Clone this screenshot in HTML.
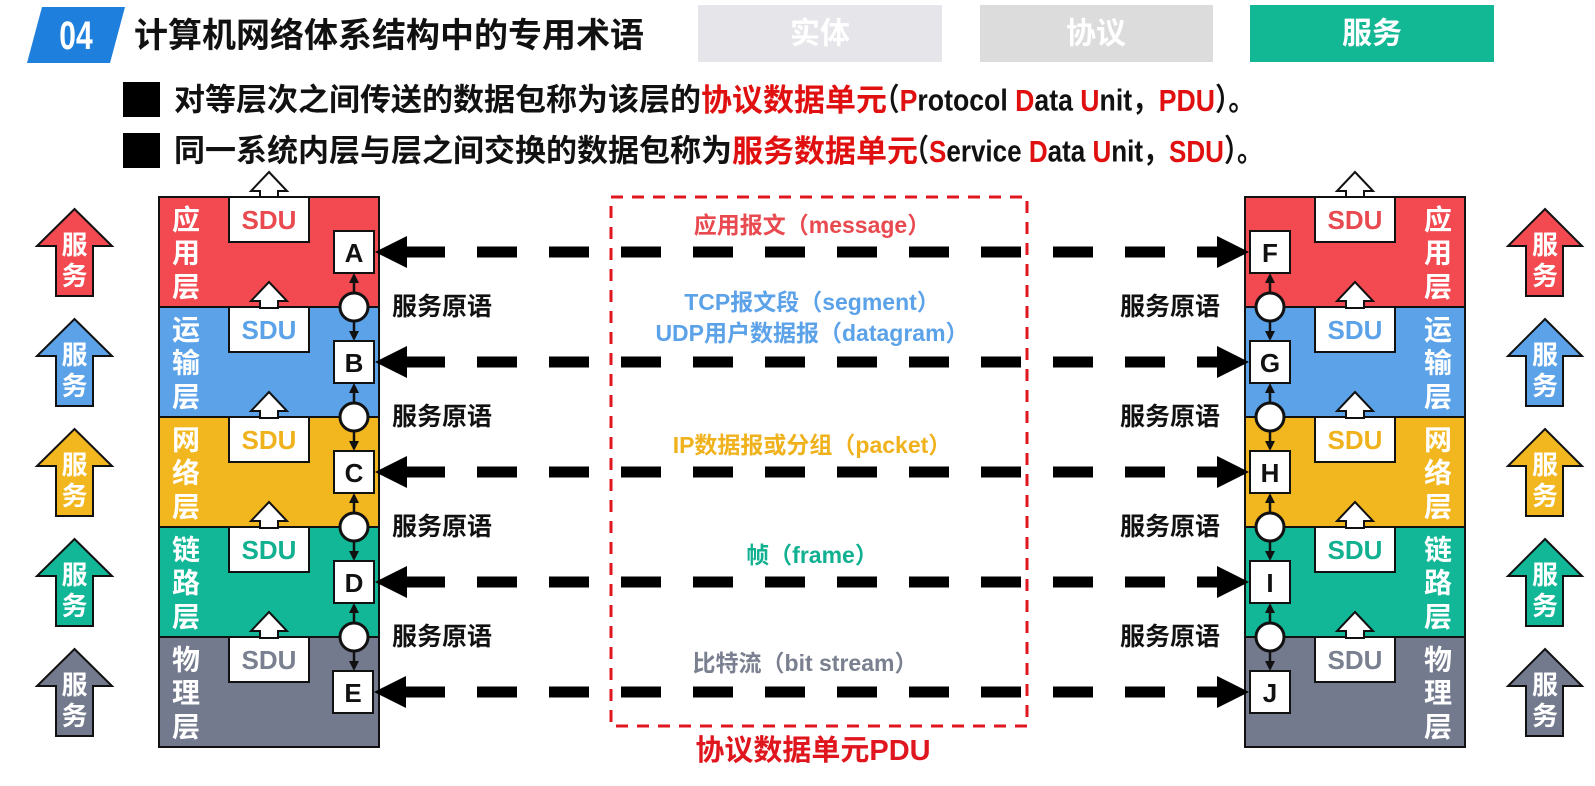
<!DOCTYPE html>
<html><head><meta charset="utf-8"><style>
html,body{margin:0;padding:0;background:#fff;}
body{width:1595px;height:781px;overflow:hidden;position:relative;font-family:"Liberation Sans","Noto Sans CJK SC",sans-serif;}
svg text{font-family:"Liberation Sans","Noto Sans CJK SC",sans-serif;font-weight:bold;}
</style></head><body>
<svg width="1595" height="781" viewBox="0 0 1595 781" xmlns="http://www.w3.org/2000/svg">
<polygon points="42,7 125,7 110,63 27,63" fill="#1e7fdc"/>
<text x="76" y="36" font-size="40" fill="#fff" text-anchor="middle" dominant-baseline="central" transform="translate(76 36) scale(0.75 1) translate(-76 -36)">04</text>
<text x="134" y="36" font-size="34" fill="#111" dominant-baseline="central">计算机网络体系结构中的专用术语</text>
<rect x="698" y="5" width="244" height="57" fill="#e6e6ea"/>
<text x="820" y="34" font-size="30" fill="#fff" text-anchor="middle" dominant-baseline="central">实体</text>
<rect x="980" y="5" width="233" height="57" fill="#dcdcdc"/>
<text x="1096" y="34" font-size="30" fill="#fff" text-anchor="middle" dominant-baseline="central">协议</text>
<rect x="1250" y="5" width="244" height="57" fill="#12b894"/>
<text x="1372" y="34" font-size="30" fill="#fff" text-anchor="middle" dominant-baseline="central">服务</text>
<rect x="123" y="82" width="37" height="35" fill="#000"/>
<rect x="123" y="133" width="37" height="35" fill="#000"/>
<text x="174" y="100" font-size="31" fill="#111" dominant-baseline="central">对等层次之间传送的数据包称为该层的<tspan fill="#e01010">协议数据单元</tspan></text>
<text x="873" y="100" font-size="31" fill="#111" dominant-baseline="central" textLength="382" lengthAdjust="spacingAndGlyphs">（<tspan fill="#e01010">P</tspan>rotocol <tspan fill="#e01010">D</tspan>ata <tspan fill="#e01010">U</tspan>nit，<tspan fill="#e01010">PDU</tspan>）。</text>
<text x="174" y="151" font-size="31" fill="#111" dominant-baseline="central">同一系统内层与层之间交换的数据包称为<tspan fill="#e01010">服务数据单元</tspan></text>
<text x="903" y="151" font-size="31" fill="#111" dominant-baseline="central" textLength="360" lengthAdjust="spacingAndGlyphs">（<tspan fill="#e01010">S</tspan>ervice <tspan fill="#e01010">D</tspan>ata <tspan fill="#e01010">U</tspan>nit，<tspan fill="#e01010">SDU</tspan>）。</text>

<g stroke="#111" stroke-width="2">
<rect x="159" y="197" width="220" height="110" fill="#f24a50"/>
<rect x="159" y="307" width="220" height="110" fill="#5ba2e8"/>
<rect x="159" y="417" width="220" height="110" fill="#f2b71f"/>
<rect x="159" y="527" width="220" height="110" fill="#11b796"/>
<rect x="159" y="637" width="220" height="110" fill="#737a8d"/>
<rect x="1245" y="197" width="220" height="110" fill="#f24a50"/>
<rect x="1245" y="307" width="220" height="110" fill="#5ba2e8"/>
<rect x="1245" y="417" width="220" height="110" fill="#f2b71f"/>
<rect x="1245" y="527" width="220" height="110" fill="#11b796"/>
<rect x="1245" y="637" width="220" height="110" fill="#737a8d"/>
</g>
<g stroke="#111" stroke-width="2" fill="#fff">
<rect x="229" y="197" width="80" height="45"/><rect x="229" y="307" width="80" height="45"/><rect x="229" y="417" width="80" height="45"/><rect x="229" y="527" width="80" height="45"/><rect x="229" y="637" width="80" height="45"/>
<rect x="1315" y="197" width="80" height="45"/><rect x="1315" y="307" width="80" height="45"/><rect x="1315" y="417" width="80" height="45"/><rect x="1315" y="527" width="80" height="45"/><rect x="1315" y="637" width="80" height="45"/>
<polygon points="269,172 287,191 278,191 278,197 260,197 260,191 251,191"/>
<polygon points="269,282 287,301 278,301 278,308 260,308 260,301 251,301"/>
<polygon points="269,392 287,411 278,411 278,418 260,418 260,411 251,411"/>
<polygon points="269,502 287,521 278,521 278,528 260,528 260,521 251,521"/>
<polygon points="269,612 287,631 278,631 278,638 260,638 260,631 251,631"/>
<polygon points="1355,172 1373,191 1364,191 1364,197 1346,197 1346,191 1337,191"/>
<polygon points="1355,282 1373,301 1364,301 1364,308 1346,308 1346,301 1337,301"/>
<polygon points="1355,392 1373,411 1364,411 1364,418 1346,418 1346,411 1337,411"/>
<polygon points="1355,502 1373,521 1364,521 1364,528 1346,528 1346,521 1337,521"/>
<polygon points="1355,612 1373,631 1364,631 1364,638 1346,638 1346,631 1337,631"/>
</g>
<g font-size="26" text-anchor="middle" dominant-baseline="central">
<text x="269" y="220" fill="#e84a50">SDU</text><text x="269" y="330" fill="#5ba2e8">SDU</text><text x="269" y="440" fill="#f0b21c">SDU</text><text x="269" y="550" fill="#11b090">SDU</text><text x="269" y="660" fill="#7a8090">SDU</text>
<text x="1355" y="220" fill="#e84a50">SDU</text><text x="1355" y="330" fill="#5ba2e8">SDU</text><text x="1355" y="440" fill="#f0b21c">SDU</text><text x="1355" y="550" fill="#11b090">SDU</text><text x="1355" y="660" fill="#7a8090">SDU</text>
</g>
<g font-size="28" fill="#fff" text-anchor="middle" dominant-baseline="central">
<text x="186" y="220">应</text><text x="186" y="253">用</text><text x="186" y="287">层</text>
<text x="186" y="330">运</text><text x="186" y="363">输</text><text x="186" y="397">层</text>
<text x="186" y="440">网</text><text x="186" y="473">络</text><text x="186" y="507">层</text>
<text x="186" y="550">链</text><text x="186" y="583">路</text><text x="186" y="617">层</text>
<text x="186" y="660">物</text><text x="186" y="693">理</text><text x="186" y="727">层</text>
<text x="1438" y="220">应</text><text x="1438" y="253">用</text><text x="1438" y="287">层</text>
<text x="1438" y="330">运</text><text x="1438" y="363">输</text><text x="1438" y="397">层</text>
<text x="1438" y="440">网</text><text x="1438" y="473">络</text><text x="1438" y="507">层</text>
<text x="1438" y="550">链</text><text x="1438" y="583">路</text><text x="1438" y="617">层</text>
<text x="1438" y="660">物</text><text x="1438" y="693">理</text><text x="1438" y="727">层</text>
</g>
<g stroke="#111" stroke-width="2.5">
<line x1="354" y1="280" x2="354" y2="334"/><line x1="354" y1="390" x2="354" y2="444"/><line x1="354" y1="500" x2="354" y2="554"/><line x1="354" y1="610" x2="354" y2="664"/>
<line x1="1270" y1="280" x2="1270" y2="334"/><line x1="1270" y1="390" x2="1270" y2="444"/><line x1="1270" y1="500" x2="1270" y2="554"/><line x1="1270" y1="610" x2="1270" y2="664"/>
</g>
<g fill="#111">
<polygon points="354,273 349,283 359,283"/><polygon points="354,341 349,331 359,331"/>
<polygon points="354,383 349,393 359,393"/><polygon points="354,451 349,441 359,441"/>
<polygon points="354,493 349,503 359,503"/><polygon points="354,561 349,551 359,551"/>
<polygon points="354,603 349,613 359,613"/><polygon points="354,671 349,661 359,661"/>
<polygon points="1270,273 1265,283 1275,283"/><polygon points="1270,341 1265,331 1275,331"/>
<polygon points="1270,383 1265,393 1275,393"/><polygon points="1270,451 1265,441 1275,441"/>
<polygon points="1270,493 1265,503 1275,503"/><polygon points="1270,561 1265,551 1275,551"/>
<polygon points="1270,603 1265,613 1275,613"/><polygon points="1270,671 1265,661 1275,661"/>
</g>
<g fill="#fff" stroke="#111" stroke-width="3">
<circle cx="354" cy="307" r="14"/><circle cx="354" cy="417" r="14"/><circle cx="354" cy="527" r="14"/><circle cx="354" cy="637" r="14"/>
<circle cx="1270" cy="307" r="14"/><circle cx="1270" cy="417" r="14"/><circle cx="1270" cy="527" r="14"/><circle cx="1270" cy="637" r="14"/>
</g>
<g fill="#fff" stroke="#111" stroke-width="2">
<rect x="334" y="231" width="40" height="42"/><rect x="334" y="341" width="40" height="42"/><rect x="334" y="451" width="40" height="42"/><rect x="334" y="561" width="40" height="42"/><rect x="333" y="671" width="40" height="42"/>
<rect x="1250" y="231" width="40" height="42"/><rect x="1250" y="341" width="40" height="42"/><rect x="1250" y="451" width="40" height="42"/><rect x="1250" y="561" width="40" height="42"/><rect x="1250" y="671" width="40" height="42"/>
</g>
<g font-size="26" fill="#111" text-anchor="middle" dominant-baseline="central">
<text x="354" y="253" font-weight="normal">A</text><text x="354" y="363" font-weight="normal">B</text><text x="354" y="473" font-weight="normal">C</text><text x="354" y="583" font-weight="normal">D</text><text x="353" y="693" font-weight="normal">E</text>
<text x="1270" y="253" font-weight="normal">F</text><text x="1270" y="363" font-weight="normal">G</text><text x="1270" y="473" font-weight="normal">H</text><text x="1270" y="583" font-weight="normal">I</text><text x="1270" y="693" font-weight="normal">J</text>
</g>
<g stroke="#000" stroke-width="11" stroke-dasharray="40 32">
<line x1="405" y1="252" x2="1221" y2="252"/><line x1="405" y1="362" x2="1221" y2="362"/><line x1="405" y1="472" x2="1221" y2="472"/><line x1="405" y1="582" x2="1221" y2="582"/><line x1="405" y1="692" x2="1221" y2="692"/>
</g>
<g fill="#000">
<polygon points="375,252 407,236 407,268"/><polygon points="375,362 407,346 407,378"/><polygon points="375,472 407,456 407,488"/><polygon points="375,582 407,566 407,598"/><polygon points="374,692 406,676 406,708"/>
<polygon points="1249,252 1217,236 1217,268"/><polygon points="1249,362 1217,346 1217,378"/><polygon points="1249,472 1217,456 1217,488"/><polygon points="1249,582 1217,566 1217,598"/><polygon points="1249,692 1217,676 1217,708"/>
</g>
<rect x="611" y="197" width="416" height="529" fill="none" stroke="#e0161e" stroke-width="3" stroke-dasharray="12 9"/>
<g font-size="23" text-anchor="middle" dominant-baseline="central">
<text x="812" y="225" fill="#e84a50">应用报文（message）</text>
<text x="812" y="302" fill="#5ba2e8">TCP报文段（segment）</text>
<text x="812" y="333" fill="#5ba2e8">UDP用户数据报（datagram）</text>
<text x="812" y="445" fill="#f0b21c">IP数据报或分组（packet）</text>
<text x="812" y="555" fill="#11b090">帧（frame）</text>
<text x="805" y="663" fill="#7a8090">比特流（bit stream）</text>
</g>
<text x="813" y="751" font-size="29" fill="#e0161e" text-anchor="middle" dominant-baseline="central">协议数据单元PDU</text>
<g font-size="25" fill="#111" dominant-baseline="central">
<text x="392" y="307">服务原语</text><text x="392" y="417">服务原语</text><text x="392" y="527">服务原语</text><text x="392" y="637">服务原语</text>
<text x="1120" y="307">服务原语</text><text x="1120" y="417">服务原语</text><text x="1120" y="527">服务原语</text><text x="1120" y="637">服务原语</text>
</g>
<g stroke="#111" stroke-width="2">
<polygon points="74.5,209 112,246 93,246 93,296 56,296 56,246 37,246" fill="#f24a50"/>
<polygon points="74.5,319 112,356 93,356 93,406 56,406 56,356 37,356" fill="#5ba2e8"/>
<polygon points="74.5,429 112,466 93,466 93,516 56,516 56,466 37,466" fill="#f2b71f"/>
<polygon points="74.5,539 112,576 93,576 93,626 56,626 56,576 37,576" fill="#11b796"/>
<polygon points="74.5,649 112,686 93,686 93,736 56,736 56,686 37,686" fill="#737a8d"/>
<polygon points="1545,209 1582,246 1563,246 1563,296 1526,296 1526,246 1508,246" fill="#f24a50"/>
<polygon points="1545,319 1582,356 1563,356 1563,406 1526,406 1526,356 1508,356" fill="#5ba2e8"/>
<polygon points="1545,429 1582,466 1563,466 1563,516 1526,516 1526,466 1508,466" fill="#f2b71f"/>
<polygon points="1545,539 1582,576 1563,576 1563,626 1526,626 1526,576 1508,576" fill="#11b796"/>
<polygon points="1545,649 1582,686 1563,686 1563,736 1526,736 1526,686 1508,686" fill="#737a8d"/>
</g>
<g font-size="26" fill="#fff" text-anchor="middle" dominant-baseline="central">
<text x="74.5" y="245">服</text><text x="74.5" y="276">务</text>
<text x="74.5" y="355">服</text><text x="74.5" y="386">务</text>
<text x="74.5" y="465">服</text><text x="74.5" y="496">务</text>
<text x="74.5" y="575">服</text><text x="74.5" y="606">务</text>
<text x="74.5" y="685">服</text><text x="74.5" y="716">务</text>
<text x="1545" y="245">服</text><text x="1545" y="276">务</text>
<text x="1545" y="355">服</text><text x="1545" y="386">务</text>
<text x="1545" y="465">服</text><text x="1545" y="496">务</text>
<text x="1545" y="575">服</text><text x="1545" y="606">务</text>
<text x="1545" y="685">服</text><text x="1545" y="716">务</text>
</g>
</svg>
</body></html>
